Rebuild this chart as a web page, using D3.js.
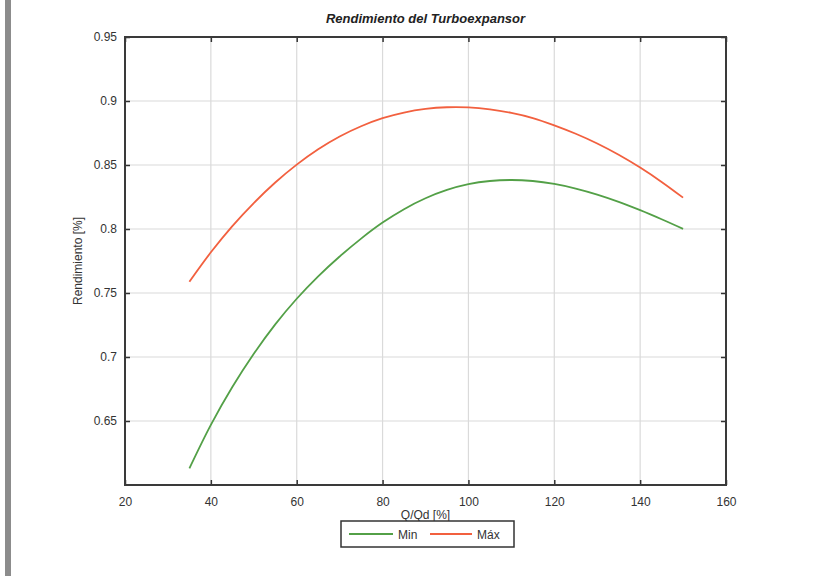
<!DOCTYPE html>
<html>
<head>
<meta charset="utf-8">
<script src="https://cdn.jsdelivr.net/npm/d3@7"></script>
<style>
  html, body { margin: 0; padding: 0; background: #fff; }
  svg { display: block; font-family: "Liberation Sans", Arial, sans-serif; }
</style>
</head>
<body>
<svg id="chart" width="825" height="576"></svg>
<script>
const title = "Rendimiento del Turboexpansor";
const xLabel = "Q/Qd [%]";
const yLabel = "Rendimiento [%]";
const seriesNames = ["Min", "Máx"];
const seriesColors = ["#53a047", "#f2603f"];
const xValues = [35, 40, 45, 50, 55, 60, 65, 70, 75, 80, 85, 90, 95, 100, 105, 110, 115, 120, 125, 130, 135, 140, 145, 150];
const minValues = [0.613, 0.647, 0.6765, 0.7025, 0.7255, 0.7455, 0.763, 0.7785, 0.7925, 0.805, 0.8155, 0.824, 0.8305, 0.835, 0.8375, 0.8383, 0.8375, 0.8352, 0.8316, 0.8269, 0.8212, 0.8147, 0.8076, 0.8001];
const maxValues = [0.7588, 0.7818, 0.8023, 0.8203, 0.8363, 0.8503, 0.8623, 0.8723, 0.8803, 0.8866, 0.891, 0.8938, 0.8951, 0.895, 0.8935, 0.8907, 0.8867, 0.881, 0.8744, 0.8668, 0.858, 0.848, 0.8368, 0.8245];
const xTicks = [20, 40, 60, 80, 100, 120, 140, 160];
const yTicks = [0.65, 0.7, 0.75, 0.8, 0.85, 0.9, 0.95];
const yTickLabels = ["0.65", "0.7", "0.75", "0.8", "0.85", "0.9", "0.95"];

const svg = d3.select("#chart");
svg.append("rect").attr("width", 825).attr("height", 576).attr("fill", "#fff");
// left gray bar
svg.append("rect").attr("x", 5).attr("y", 0).attr("width", 6).attr("height", 576).attr("fill", "#8c8c8c");

const L = 125, R = 726, T = 37, B = 485;
const x = d3.scaleLinear().domain([20, 160]).range([L, R]);
const y = d3.scaleLinear().domain([0.6, 0.95]).range([B, T]);

// grid
const grid = svg.append("g");
grid.selectAll(".gx").data(xTicks.slice(1, -1)).enter().append("line")
  .attr("x1", d => x(d)).attr("x2", d => x(d)).attr("y1", T).attr("y2", B)
  .attr("stroke", "#dadada").attr("stroke-width", 1.2);
grid.selectAll(".gy").data(yTicks.slice(0, -1)).enter().append("line")
  .attr("x1", L).attr("x2", R).attr("y1", d => y(d)).attr("y2", d => y(d))
  .attr("stroke", "#dadada").attr("stroke-width", 1.2);

// lines
const line = d3.line().x(d => x(d[0])).y(d => y(d[1])).curve(d3.curveCatmullRom);
[minValues, maxValues].forEach((vals, i) => {
  svg.append("path").datum(xValues.map((v, j) => [v, vals[j]]))
    .attr("d", line).attr("fill", "none")
    .attr("stroke", seriesColors[i]).attr("stroke-width", 1.8);
});

// axes
const tickStyle = g => {
  g.select(".domain").remove();
  g.selectAll(".tick line").attr("stroke", "#333").attr("stroke-width", 1.5);
  g.selectAll(".tick text").attr("fill", "#333").attr("font-size", "12px");
};
svg.append("g").attr("transform", `translate(0,${B})`)
  .call(d3.axisBottom(x).tickValues(xTicks).tickSizeInner(-5).tickSizeOuter(0).tickPadding(12).tickFormat(d3.format("d")))
  .call(tickStyle);
svg.append("g").attr("transform", `translate(0,${T})`)
  .call(d3.axisTop(x).tickValues(xTicks).tickSizeInner(-5).tickSizeOuter(0).tickFormat(""))
  .call(tickStyle);
svg.append("g").attr("transform", `translate(${L},0)`)
  .call(d3.axisLeft(y).tickValues(yTicks).tickSizeInner(-5).tickSizeOuter(0).tickPadding(8).tickFormat((d, i) => yTickLabels[i]))
  .call(tickStyle);
svg.append("g").attr("transform", `translate(${R},0)`)
  .call(d3.axisRight(y).tickValues(yTicks).tickSizeInner(-5).tickSizeOuter(0).tickFormat(""))
  .call(tickStyle);

// frame
svg.append("rect").attr("x", L).attr("y", T).attr("width", R - L).attr("height", B - T)
  .attr("fill", "none").attr("stroke", "#3a3a3a").attr("stroke-width", 2);

// title and labels
svg.append("text").attr("x", (L + R) / 2).attr("y", 23).attr("text-anchor", "middle")
  .attr("font-size", "13px").attr("font-weight", "bold").attr("font-style", "italic")
  .attr("fill", "#222").text(title);
svg.append("text").attr("x", (L + R) / 2).attr("y", 519).attr("text-anchor", "middle")
  .attr("font-size", "12px").attr("fill", "#333").text(xLabel);
svg.append("text").attr("transform", `translate(82,${(T + B) / 2}) rotate(-90)`)
  .attr("text-anchor", "middle").attr("font-size", "12px").attr("fill", "#333").text(yLabel);

// legend
const lg = svg.append("g");
lg.append("rect").attr("x", 341).attr("y", 521).attr("width", 173).attr("height", 26)
  .attr("fill", "#fff").attr("stroke", "#333").attr("stroke-width", 1.5);
const legendX = [[349, 393, 398], [430, 472, 477]];
seriesNames.forEach((name, i) => {
  lg.append("line").attr("x1", legendX[i][0]).attr("x2", legendX[i][1]).attr("y1", 534).attr("y2", 534)
    .attr("stroke", seriesColors[i]).attr("stroke-width", 1.8);
  lg.append("text").attr("x", legendX[i][2]).attr("y", 538.5).attr("font-size", "12px")
    .attr("fill", "#333").text(name);
});
</script>
</body>
</html>
